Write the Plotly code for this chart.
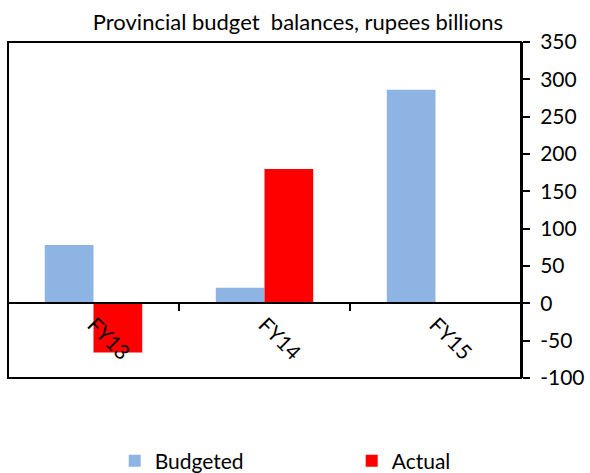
import plotly.graph_objects as go

# Provincial budget balances (rupees billions)
years = ["FY13", "FY14", "FY15"]
budgeted = [78, 21, 286]
actual = [-66, 180, None]
y_ticks = [-100, -50, 0, 50, 100, 150, 200, 250, 300, 350]
y_tick_text = [str(v) for v in y_ticks]  # plain hyphen minus signs

FONT = "Lato, Carlito, Calibri, sans-serif"
FSIZE = 21
BLUE = "#8EB4E3"
RED = "#FF0000"

fig = go.Figure()
fig.add_trace(go.Bar(name="Budgeted", x=years, y=budgeted, marker=dict(color=BLUE, line_width=0)))
fig.add_trace(go.Bar(name="Actual", x=years, y=actual, marker=dict(color=RED, line_width=0)))

ymin, ymax = -100, 350
zero_pos = (0 - ymin) / (ymax - ymin)

fig.update_layout(
    width=590, height=473,
    margin=dict(l=8, r=69, t=42, b=95, autoexpand=False),
    paper_bgcolor="white", plot_bgcolor="white",
    barmode="group", bargap=0.43, bargroupgap=0,
    font=dict(family=FONT, size=FSIZE, color="black"),
    title=dict(text="Provincial budget  balances, rupees billions", x=0.505, xanchor="center",
               y=0.953, yanchor="middle", font=dict(family=FONT, size=22, color="black")),
    xaxis=dict(
        type="category", range=[-0.5, 2.5], anchor="free", position=zero_pos,
        showline=True, linecolor="black", linewidth=2,
        ticks="outside", tickson="boundaries", ticklen=7, tickwidth=2, tickcolor="black",
        tickangle=45, showgrid=False, zeroline=False,
        tickfont=dict(family=FONT, size=FSIZE),
    ),
    yaxis=dict(
        side="right", range=[ymin, ymax], tickvals=y_ticks, ticktext=y_tick_text,
        showline=True, linecolor="black", linewidth=2,
        ticks="outside", ticklen=7, tickwidth=2, tickcolor="black",
        showgrid=False, zeroline=False, ticklabelstandoff=6,
        tickfont=dict(family=FONT, size=FSIZE),
    ),
    legend=dict(orientation="h", xref="paper", x=0.208, xanchor="left",
                yref="container", y=0.025, yanchor="middle",
                entrywidth=192, entrywidthmode="pixels",
                font=dict(family=FONT, size=FSIZE), traceorder="normal"),
    shapes=[dict(type="rect", xref="paper", yref="paper", x0=0, x1=1, y0=0, y1=1,
                 line=dict(color="black", width=2), layer="above")],
)

fig.write_html("out.html")
